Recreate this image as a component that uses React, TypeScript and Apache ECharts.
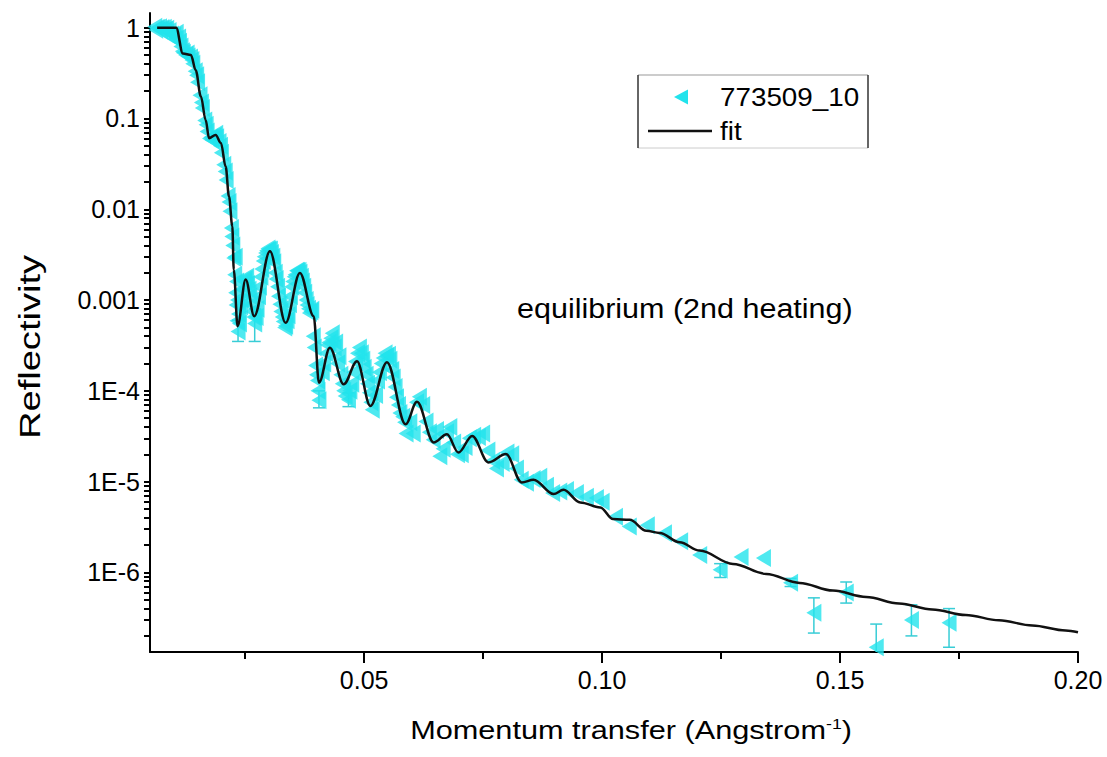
import React, { useEffect, useRef } from "react";
import * as echarts from "echarts";

// ---------- data ----------
const fitQ = [0.0065, 0.0105, 0.0119, 0.0136, 0.0146, 0.0157, 0.0167, 0.0174, 0.0188, 0.0199, 0.0209, 0.0216, 0.0223, 0.0226, 0.0234, 0.0251, 0.0269, 0.0302, 0.0335, 0.0365, 0.0394, 0.0405, 0.0428, 0.0457, 0.0485, 0.0513, 0.0548, 0.0587, 0.0611, 0.0646, 0.0674, 0.0698, 0.0727, 0.0761, 0.0798, 0.0831, 0.0856, 0.0898, 0.0919, 0.0954, 0.0996, 0.1023, 0.1058, 0.1093, 0.1121, 0.1163, 0.1205, 0.1275, 0.1345, 0.1415, 0.1485, 0.1555, 0.1624, 0.1694, 0.1764, 0.1834, 0.1904, 0.1974, 0.2];
const fitR = [1.0, 1.0, 0.52, 0.50, 0.34, 0.174, 0.096, 0.0606, 0.0659, 0.0538, 0.0295, 0.0138, 0.00648, 0.00216, 5.15e-4, 1.68e-3, 6.64e-4, 3.44e-3, 5.61e-4, 1.99e-3, 6.64e-4, 1.23e-4, 2.99e-4, 1.18e-4, 2.12e-4, 6.81e-5, 2.07e-4, 4.28e-5, 7.57e-5, 2.7e-5, 3.33e-5, 2.09e-5, 3.19e-5, 1.63e-5, 2.01e-5, 9.8e-6, 1.05e-5, 7.29e-6, 8.13e-6, 5.9e-6, 5.2e-6, 3.87e-6, 3.8e-6, 2.88e-6, 2.72e-6, 2.15e-6, 1.74e-6, 1.24e-6, 9.63e-7, 7.67e-7, 6.31e-7, 5.36e-7, 4.55e-7, 3.92e-7, 3.40e-7, 2.97e-7, 2.61e-7, 2.30e-7, 2.2e-7];

const dataQ = [
  0.0060, 0.0065, 0.0070, 0.0075, 0.0080, 0.0085, 0.0090, 0.0095, 0.0100, 0.0105,
  0.0110, 0.0115, 0.0120, 0.0125, 0.0130, 0.0135, 0.0140, 0.0145, 0.0150, 0.0155,
  0.0160, 0.0165, 0.0170, 0.0175, 0.0180, 0.0185, 0.0190, 0.0195, 0.0200, 0.0205,
  0.0210, 0.0214, 0.0218, 0.0221, 0.0224, 0.0226, 0.0228, 0.0230, 0.0231, 0.0233,
  0.0235, 0.0240, 0.0245, 0.0250, 0.0255, 0.0260, 0.0265, 0.0270, 0.0275, 0.0280,
  0.0285, 0.0290, 0.0295, 0.0300, 0.0305, 0.0310, 0.0315, 0.0320, 0.0325, 0.0330,
  0.0335, 0.0340, 0.0345, 0.0350, 0.0355, 0.0360, 0.0365, 0.0370, 0.0375, 0.0380,
  0.0385, 0.0390, 0.0393, 0.0398, 0.0402, 0.0405, 0.0412, 0.0420, 0.0426, 0.0433,
  0.0440, 0.0447, 0.0454, 0.0460, 0.0467, 0.0474, 0.0482, 0.0490, 0.0497, 0.0504,
  0.0511, 0.0517, 0.0524, 0.0532, 0.0540, 0.0547, 0.0554, 0.0561, 0.0568, 0.0575,
  0.0581, 0.0588, 0.0596, 0.0603, 0.0610, 0.0616, 0.0623, 0.0630, 0.0637, 0.0645,
  0.0652, 0.0659, 0.0666, 0.0673, 0.0680, 0.0688, 0.0696, 0.0704, 0.0712, 0.0721,
  0.0730, 0.0740, 0.0749, 0.0760, 0.0770, 0.0778, 0.0790, 0.0800, 0.0810, 0.0820,
  0.0830, 0.0841, 0.0855, 0.0869, 0.0883, 0.0896, 0.0911, 0.0925, 0.0946, 0.0967,
  0.0988, 0.1000, 0.1028, 0.1057, 0.1095, 0.1131, 0.1165, 0.1205, 0.1248, 0.1292,
  0.1339, 0.1396, 0.1445, 0.1513, 0.1576, 0.1650, 0.1729,
  // second pass of the dense low-q region
  0.0062, 0.0072, 0.0082, 0.0092, 0.0102, 0.0112, 0.0118, 0.0128, 0.0138, 0.0148,
  0.0158, 0.0168, 0.0178, 0.0188, 0.0198, 0.0208, 0.0216, 0.0222,
  0.0229, 0.0232, 0.0234, 0.0236, 0.0238, 0.0243, 0.0248, 0.0253, 0.0258, 0.0263,
  0.0268, 0.0273, 0.0278, 0.0283, 0.0288, 0.0293, 0.0298, 0.0303, 0.0308, 0.0313,
  0.0318, 0.0323, 0.0328, 0.0333, 0.0338, 0.0343, 0.0348, 0.0353, 0.0358, 0.0363,
  0.0368, 0.0373, 0.0378, 0.0383, 0.0388, 0.0395, 0.0400, 0.0403,
  0.0415, 0.0423, 0.0430, 0.0437, 0.0444, 0.0451, 0.0457, 0.0470, 0.0478, 0.0486,
  0.0494, 0.0500, 0.0507, 0.0514, 0.0528, 0.0536, 0.0544, 0.0551, 0.0558, 0.0565,
  0.0572, 0.0585,
];
const dataR = [
  1.02, 1.0, 1.01, 0.99, 1.0, 0.97, 0.92, 0.84, 0.82, 0.88,
  0.78, 0.62, 0.53, 0.50, 0.48, 0.47, 0.40, 0.33, 0.25, 0.18,
  0.13, 0.095, 0.072, 0.060, 0.058, 0.064, 0.062, 0.055, 0.042, 0.031,
  0.021, 0.014, 0.0095, 0.0062, 0.0040, 0.0029, 0.0019, 0.0012, 8.8e-4, 5.9e-4,
  4.5e-4, 8.5e-4, 1.3e-3, 1.7e-3, 1.5e-3, 1.1e-3, 7.5e-4, 5.5e-4, 8.0e-4, 1.4e-3,
  2.2e-3, 3.0e-3, 3.5e-3, 3.6e-3, 3.3e-3, 2.6e-3, 1.7e-3, 1.1e-3, 7.5e-4, 5.8e-4,
  5.2e-4, 6.8e-4, 1.1e-3, 1.6e-3, 1.9e-3, 2.1e-3, 2.0e-3, 1.6e-3, 1.2e-3, 8.8e-4,
  7.2e-4, 7.8e-4, 4.0e-4, 1.9e-4, 1.3e-4, 7.9e-5, 1.6e-4, 2.6e-4, 3.4e-4, 4.3e-4,
  3.4e-4, 2.4e-4, 1.2e-4, 8.8e-5, 8.0e-5, 1.2e-4, 2.1e-4, 3.0e-4, 2.2e-4, 1.5e-4,
  9.5e-5, 6.2e-5, 9.0e-5, 1.6e-4, 2.3e-4, 2.4e-4, 2.2e-4, 1.4e-4, 8.5e-5, 5.7e-5,
  5.2e-5, 3.4e-5, 4.5e-5, 3.4e-5, 7.5e-5, 8.6e-5, 7.0e-5, 4.6e-5, 3.5e-5, 2.9e-5,
  3.7e-5, 1.9e-5, 2.3e-5, 3.5e-5, 4.0e-5, 2.7e-5, 2.0e-5, 2.0e-5, 2.4e-5, 3.0e-5,
  3.2e-5, 3.1e-5, 3.4e-5, 2.2e-5, 1.7e-5, 1.4e-5, 1.6e-5, 2.1e-5, 2.0e-5, 1.4e-5,
  1.05e-5, 9.7e-6, 1.07e-5, 1.13e-5, 9.0e-6, 7.5e-6, 7.8e-6, 8.1e-6, 7.5e-6, 6.8e-6,
  6.6e-6, 6.0e-6, 4.1e-6, 3.2e-6, 3.3e-6, 2.7e-6, 2.2e-6, 1.56e-6, 1.07e-6, 1.48e-6,
  1.44e-6, 7.7e-7, 3.6e-7, 6.0e-7, 1.5e-7, 3.0e-7, 2.8e-7,
  0.95, 0.93, 0.94, 0.80, 0.75, 0.70, 0.55, 0.52, 0.44, 0.30,
  0.15, 0.085, 0.062, 0.068, 0.050, 0.026, 0.012, 0.0050,
  0.0030, 0.0016, 0.0010, 7.0e-4, 5.5e-4, 1.0e-3, 1.6e-3, 1.8e-3, 1.3e-3, 9.0e-4,
  6.5e-4, 6.5e-4, 1.1e-3, 1.8e-3, 2.7e-3, 3.3e-3, 3.7e-3, 3.6e-3, 3.0e-3, 2.0e-3,
  1.4e-3, 9.0e-4, 6.5e-4, 5.0e-4, 6.0e-4, 9.0e-4, 1.4e-3, 1.8e-3, 2.1e-3, 2.1e-3,
  1.8e-3, 1.4e-3, 1.0e-3, 8.0e-4, 7.5e-4, 3.0e-4, 1.5e-4, 1.0e-4,
  2.0e-4, 3.2e-4, 3.8e-4, 3.0e-4, 2.0e-4, 1.5e-4, 1.0e-4, 1.0e-4, 1.6e-4, 2.6e-4,
  2.6e-4, 1.8e-4, 1.2e-4, 7.5e-5, 1.3e-4, 2.0e-4, 2.6e-4, 2.5e-4, 1.7e-4, 1.1e-4,
  7.0e-5, 4.5e-5,
];

const errQ = [0.0235, 0.0270, 0.0405, 0.0467, 0.1248, 0.1396, 0.1445, 0.1513, 0.1576, 0.1650, 0.1729];
const errLow = [3.5e-4, 3.5e-4, 6.5e-5, 6.7e-5, 8.8e-7, 7.0e-7, 2.15e-7, 4.6e-7, 1.1e-7, 2.0e-7, 1.5e-7];
const errHigh = [6.0e-4, 8.0e-4, 1.0e-4, 9.5e-5, 1.25e-6, 8.6e-7, 5.25e-7, 7.85e-7, 2.7e-7, 4.4e-7, 4.0e-7];

const xMajorTicks = [0.05, 0.1, 0.15, 0.2];
const xMinorTicks = [0.025, 0.075, 0.125, 0.175];
const yMajorTicks = [1e-6, 1e-5, 1e-4, 1e-3, 1e-2, 1e-1, 1];
const yMinorTicks = [
  2e-7, 3e-7, 4e-7, 5e-7, 6e-7, 7e-7, 8e-7, 9e-7,
  2e-6, 3e-6, 4e-6, 5e-6, 6e-6, 7e-6, 8e-6, 9e-6,
  2e-5, 3e-5, 4e-5, 5e-5, 6e-5, 7e-5, 8e-5, 9e-5,
  2e-4, 3e-4, 4e-4, 5e-4, 6e-4, 7e-4, 8e-4, 9e-4,
  0.002, 0.003, 0.004, 0.005, 0.006, 0.007, 0.008, 0.009,
  0.02, 0.03, 0.04, 0.05, 0.06, 0.07, 0.08, 0.09,
  0.2, 0.3, 0.4, 0.5, 0.6, 0.7, 0.8, 0.9,
];

const seriesNames = ["773509_10", "fit"];
const xTitleMain = "Momentum transfer (Angstrom";
const xTitleSup = "-1";
const yTitle = "Reflectivity";
const annotation = "equilibrium (2nd heating)";

// ---------- styling ----------
const FONT = "'Liberation Sans', Arial, sans-serif";
const CYAN = "#22E3EC";
const ERR = "#38CDD6";
const X_MIN = 0.005;
const X_MAX = 0.2;
const Y_MIN = 1.33e-7;
const Y_MAX = 1.45;

function yLabel(v: number): string {
  const e = Math.round(Math.log10(v));
  if (e >= -3) return e === 0 ? "1" : Number(Math.pow(10, e).toPrecision(1)).toString();
  return "1E" + e;
}

export default function App() {
  const ref = useRef<HTMLDivElement>(null);
  useEffect(() => {
    if (!ref.current) return;
    const chart = echarts.init(ref.current, undefined, { renderer: "svg" });
    const fitData = fitQ.map((q, i) => [q, fitR[i]]);
    const pts = dataQ.map((q, i) => [q, dataR[i]]);
    const errData = errQ.map((q, i) => [q, errLow[i], errHigh[i]]);
    const allYTicks = [...yMajorTicks, ...yMinorTicks].sort((a, b) => a - b);
    const axisLineStyle = { color: "#000", width: 2 };

    chart.setOption({
      animation: false,
      backgroundColor: "#fff",
      grid: { left: 150, right: 29, top: 13, bottom: 105, containLabel: false },
      xAxis: [
        {
          type: "value",
          min: X_MIN,
          max: X_MAX,
          axisLine: { show: true, onZero: false, lineStyle: axisLineStyle },
          axisTick: { show: true, customValues: xMajorTicks, length: 11, lineStyle: axisLineStyle },
          axisLabel: {
            customValues: xMajorTicks,
            formatter: (v: number) => v.toFixed(2),
            fontSize: 25,
            fontFamily: FONT,
            color: "#000",
            margin: 15,
          },
          splitLine: { show: false },
        },
        {
          type: "value",
          min: X_MIN,
          max: X_MAX,
          position: "bottom",
          axisLine: { show: false, onZero: false },
          axisTick: { show: true, customValues: xMinorTicks, length: 7, lineStyle: axisLineStyle },
          axisLabel: { show: false },
          splitLine: { show: false },
        },
      ],
      yAxis: [
        {
          type: "log",
          logBase: 10,
          min: Y_MIN,
          max: Y_MAX,
          axisLine: { show: true, lineStyle: axisLineStyle },
          // major and logarithmic minor ticks together on the axis itself
          axisTick: { show: true, customValues: allYTicks, length: 6, lineStyle: axisLineStyle },
          axisLabel: {
            customValues: yMajorTicks,
            formatter: yLabel,
            fontSize: 25,
            fontFamily: FONT,
            color: "#000",
            margin: 10,
          },
          splitLine: { show: false },
        },
      ],
      series: [
        {
          type: "custom",
          name: "err",
          xAxisIndex: 0,
          yAxisIndex: 0,
          clip: true,
          z: 1,
          data: errData,
          encode: { x: 0, y: [1, 2] },
          renderItem: (params: any, api: any) => {
            const q = api.value(0);
            const lo = api.coord([q, api.value(1)]);
            const hi = api.coord([q, api.value(2)]);
            const cw = 6;
            const st = { stroke: ERR, lineWidth: 1.5 };
            return {
              type: "group",
              children: [
                { type: "line", shape: { x1: lo[0], y1: lo[1], x2: hi[0], y2: hi[1] }, style: st },
                { type: "line", shape: { x1: lo[0] - cw, y1: lo[1], x2: lo[0] + cw, y2: lo[1] }, style: st },
                { type: "line", shape: { x1: hi[0] - cw, y1: hi[1], x2: hi[0] + cw, y2: hi[1] }, style: st },
              ],
            };
          },
        },
        {
          type: "scatter",
          name: seriesNames[0],
          xAxisIndex: 0,
          yAxisIndex: 0,
          z: 2,
          symbol: "triangle",
          symbolRotate: 90,
          symbolSize: [18, 15],
          itemStyle: { color: CYAN },
          data: pts,
        },
        {
          type: "line",
          name: seriesNames[1],
          xAxisIndex: 0,
          yAxisIndex: 0,
          z: 3,
          showSymbol: false,
          symbol: "none",
          smooth: 0.35,
          smoothMonotone: "x",
          lineStyle: { color: "#111", width: 2.5 },
          data: fitData,
        },
      ],
      graphic: [
        {
          type: "text",
          x: 30,
          y: 347,
          rotation: Math.PI / 2,
          scaleX: 1.27,
          style: { text: yTitle, fontSize: 30, fontFamily: FONT, fill: "#000", align: "center", verticalAlign: "middle" },
        },
        {
          type: "text",
          x: 631,
          y: 730,
          scaleX: 1.18,
          style: {
            text: "{a|" + xTitleMain + "}{s|" + xTitleSup + "}{a|)}",
            align: "center",
            verticalAlign: "middle",
            rich: {
              a: { fontSize: 26, fontFamily: FONT, fill: "#000", color: "#000" },
              s: { fontSize: 15, fontFamily: FONT, fill: "#000", color: "#000", verticalAlign: "top", padding: [0, 0, 12, 0] },
            },
          },
        },
        {
          type: "text",
          x: 517,
          y: 309,
          scaleX: 1.13,
          style: { text: annotation, fontSize: 27, fontFamily: FONT, fill: "#000", align: "left", verticalAlign: "middle" },
        },
        // legend box
        { type: "rect", shape: { x: 638, y: 75, width: 230, height: 73 }, style: { fill: "#fff", stroke: null }, z: 10 },
        { type: "line", shape: { x1: 638, y1: 75, x2: 868, y2: 75 }, style: { stroke: "#999", lineWidth: 1 }, z: 11 },
        { type: "line", shape: { x1: 638, y1: 148, x2: 868, y2: 148 }, style: { stroke: "#ccc", lineWidth: 1 }, z: 11 },
        { type: "line", shape: { x1: 638, y1: 75, x2: 638, y2: 148 }, style: { stroke: "#333", lineWidth: 1.5 }, z: 11 },
        { type: "line", shape: { x1: 868, y1: 75, x2: 868, y2: 148 }, style: { stroke: "#333", lineWidth: 1.5 }, z: 11 },
        { type: "polygon", shape: { points: [[674, 97], [688, 89.5], [688, 104.5]] }, style: { fill: CYAN }, z: 11 },
        { type: "line", shape: { x1: 648, y1: 131, x2: 712, y2: 131 }, style: { stroke: "#111", lineWidth: 2.5 }, z: 11 },
        {
          type: "text", x: 720, y: 97, scaleX: 1.07, z: 11,
          style: { text: seriesNames[0], fontSize: 26, fontFamily: FONT, fill: "#000", align: "left", verticalAlign: "middle" },
        },
        {
          type: "text", x: 720, y: 131, scaleX: 1.07, z: 11,
          style: { text: seriesNames[1], fontSize: 26, fontFamily: FONT, fill: "#000", align: "left", verticalAlign: "middle" },
        },
      ],
    });

    return () => chart.dispose();
  }, []);
  return <div ref={ref} style={{ position: "absolute", left: 0, top: 0, width: 1107, height: 757 }} />;
}
